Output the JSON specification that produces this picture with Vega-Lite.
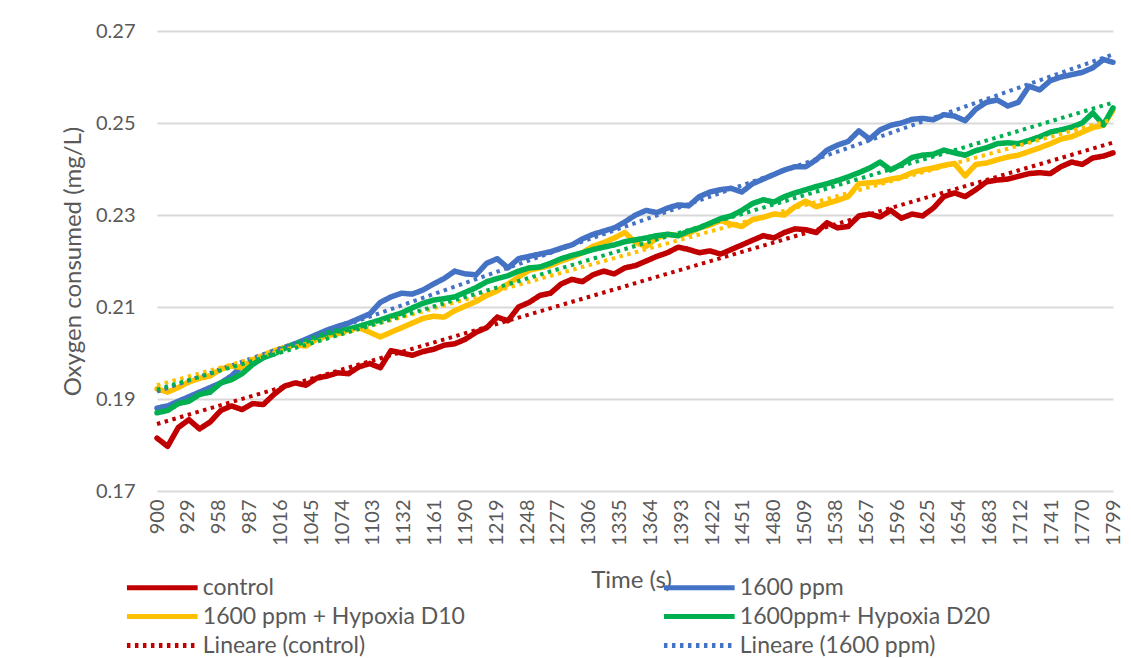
{
 "$schema": "https://vega.github.io/schema/vega-lite/v6.json",
 "width": 956,
 "height": 460,
 "autosize": "none",
 "padding": {"left": 157, "top": 31, "right": 18, "bottom": 167},
 "background": "white",
 "config": {"view": {"stroke": null}, "font": "Lato"},
 "data": {"values": [
{"t":900,"control":0.1815,"1600 ppm":0.1880,"1600 ppm + Hypoxia D10":0.1922,"1600ppm+ Hypoxia D20":0.1870},
{"t":910,"control":0.1797,"1600 ppm":0.1885,"1600 ppm + Hypoxia D10":0.1915,"1600ppm+ Hypoxia D20":0.1875},
{"t":920,"control":0.1838,"1600 ppm":0.1895,"1600 ppm + Hypoxia D10":0.1925,"1600ppm+ Hypoxia D20":0.1890},
{"t":930,"control":0.1855,"1600 ppm":0.1905,"1600 ppm + Hypoxia D10":0.1937,"1600ppm+ Hypoxia D20":0.1895},
{"t":940,"control":0.1835,"1600 ppm":0.1915,"1600 ppm + Hypoxia D10":0.1945,"1600ppm+ Hypoxia D20":0.1910},
{"t":950,"control":0.1850,"1600 ppm":0.1925,"1600 ppm + Hypoxia D10":0.1950,"1600ppm+ Hypoxia D20":0.1915},
{"t":960,"control":0.1875,"1600 ppm":0.1935,"1600 ppm + Hypoxia D10":0.1965,"1600ppm+ Hypoxia D20":0.1935},
{"t":970,"control":0.1885,"1600 ppm":0.1950,"1600 ppm + Hypoxia D10":0.1972,"1600ppm+ Hypoxia D20":0.1942},
{"t":980,"control":0.1877,"1600 ppm":0.1972,"1600 ppm + Hypoxia D10":0.1968,"1600ppm+ Hypoxia D20":0.1955},
{"t":990,"control":0.1890,"1600 ppm":0.1980,"1600 ppm + Hypoxia D10":0.1985,"1600ppm+ Hypoxia D20":0.1975},
{"t":1000,"control":0.1888,"1600 ppm":0.1990,"1600 ppm + Hypoxia D10":0.1995,"1600ppm+ Hypoxia D20":0.1990},
{"t":1010,"control":0.1910,"1600 ppm":0.2002,"1600 ppm + Hypoxia D10":0.2005,"1600ppm+ Hypoxia D20":0.1998},
{"t":1020,"control":0.1928,"1600 ppm":0.2012,"1600 ppm + Hypoxia D10":0.2012,"1600ppm+ Hypoxia D20":0.2010},
{"t":1030,"control":0.1935,"1600 ppm":0.2020,"1600 ppm + Hypoxia D10":0.2018,"1600ppm+ Hypoxia D20":0.2020},
{"t":1040,"control":0.1930,"1600 ppm":0.2030,"1600 ppm + Hypoxia D10":0.2015,"1600ppm+ Hypoxia D20":0.2025},
{"t":1050,"control":0.1945,"1600 ppm":0.2040,"1600 ppm + Hypoxia D10":0.2030,"1600ppm+ Hypoxia D20":0.2035},
{"t":1060,"control":0.1950,"1600 ppm":0.2050,"1600 ppm + Hypoxia D10":0.2038,"1600ppm+ Hypoxia D20":0.2043},
{"t":1070,"control":0.1957,"1600 ppm":0.2058,"1600 ppm + Hypoxia D10":0.2042,"1600ppm+ Hypoxia D20":0.2048},
{"t":1080,"control":0.1955,"1600 ppm":0.2065,"1600 ppm + Hypoxia D10":0.2050,"1600ppm+ Hypoxia D20":0.2052},
{"t":1090,"control":0.1970,"1600 ppm":0.2075,"1600 ppm + Hypoxia D10":0.2055,"1600ppm+ Hypoxia D20":0.2058},
{"t":1100,"control":0.1977,"1600 ppm":0.2085,"1600 ppm + Hypoxia D10":0.2045,"1600ppm+ Hypoxia D20":0.2065},
{"t":1110,"control":0.1968,"1600 ppm":0.2110,"1600 ppm + Hypoxia D10":0.2035,"1600ppm+ Hypoxia D20":0.2072},
{"t":1120,"control":0.2005,"1600 ppm":0.2122,"1600 ppm + Hypoxia D10":0.2045,"1600ppm+ Hypoxia D20":0.2080},
{"t":1130,"control":0.2000,"1600 ppm":0.2130,"1600 ppm + Hypoxia D10":0.2055,"1600ppm+ Hypoxia D20":0.2087},
{"t":1140,"control":0.1995,"1600 ppm":0.2128,"1600 ppm + Hypoxia D10":0.2065,"1600ppm+ Hypoxia D20":0.2098},
{"t":1150,"control":0.2003,"1600 ppm":0.2137,"1600 ppm + Hypoxia D10":0.2075,"1600ppm+ Hypoxia D20":0.2108},
{"t":1160,"control":0.2008,"1600 ppm":0.2150,"1600 ppm + Hypoxia D10":0.2080,"1600ppm+ Hypoxia D20":0.2115},
{"t":1170,"control":0.2017,"1600 ppm":0.2162,"1600 ppm + Hypoxia D10":0.2078,"1600ppm+ Hypoxia D20":0.2118},
{"t":1180,"control":0.2020,"1600 ppm":0.2178,"1600 ppm + Hypoxia D10":0.2092,"1600ppm+ Hypoxia D20":0.2122},
{"t":1190,"control":0.2030,"1600 ppm":0.2172,"1600 ppm + Hypoxia D10":0.2102,"1600ppm+ Hypoxia D20":0.2132},
{"t":1200,"control":0.2045,"1600 ppm":0.2170,"1600 ppm + Hypoxia D10":0.2112,"1600ppm+ Hypoxia D20":0.2142},
{"t":1210,"control":0.2055,"1600 ppm":0.2195,"1600 ppm + Hypoxia D10":0.2125,"1600ppm+ Hypoxia D20":0.2155},
{"t":1220,"control":0.2078,"1600 ppm":0.2205,"1600 ppm + Hypoxia D10":0.2135,"1600ppm+ Hypoxia D20":0.2162},
{"t":1230,"control":0.2070,"1600 ppm":0.2185,"1600 ppm + Hypoxia D10":0.2150,"1600ppm+ Hypoxia D20":0.2168},
{"t":1240,"control":0.2100,"1600 ppm":0.2205,"1600 ppm + Hypoxia D10":0.2165,"1600ppm+ Hypoxia D20":0.2178},
{"t":1250,"control":0.2110,"1600 ppm":0.2210,"1600 ppm + Hypoxia D10":0.2180,"1600ppm+ Hypoxia D20":0.2185},
{"t":1260,"control":0.2125,"1600 ppm":0.2215,"1600 ppm + Hypoxia D10":0.2185,"1600ppm+ Hypoxia D20":0.2187},
{"t":1270,"control":0.2130,"1600 ppm":0.2220,"1600 ppm + Hypoxia D10":0.2190,"1600ppm+ Hypoxia D20":0.2195},
{"t":1280,"control":0.2150,"1600 ppm":0.2228,"1600 ppm + Hypoxia D10":0.2200,"1600ppm+ Hypoxia D20":0.2205},
{"t":1290,"control":0.2160,"1600 ppm":0.2235,"1600 ppm + Hypoxia D10":0.2208,"1600ppm+ Hypoxia D20":0.2212},
{"t":1300,"control":0.2155,"1600 ppm":0.2248,"1600 ppm + Hypoxia D10":0.2218,"1600ppm+ Hypoxia D20":0.2218},
{"t":1310,"control":0.2170,"1600 ppm":0.2258,"1600 ppm + Hypoxia D10":0.2232,"1600ppm+ Hypoxia D20":0.2225},
{"t":1320,"control":0.2178,"1600 ppm":0.2265,"1600 ppm + Hypoxia D10":0.2240,"1600ppm+ Hypoxia D20":0.2230},
{"t":1330,"control":0.2172,"1600 ppm":0.2272,"1600 ppm + Hypoxia D10":0.2250,"1600ppm+ Hypoxia D20":0.2235},
{"t":1340,"control":0.2185,"1600 ppm":0.2285,"1600 ppm + Hypoxia D10":0.2262,"1600ppm+ Hypoxia D20":0.2242},
{"t":1350,"control":0.2190,"1600 ppm":0.2300,"1600 ppm + Hypoxia D10":0.2240,"1600ppm+ Hypoxia D20":0.2246},
{"t":1360,"control":0.2200,"1600 ppm":0.2310,"1600 ppm + Hypoxia D10":0.2232,"1600ppm+ Hypoxia D20":0.2250},
{"t":1370,"control":0.2210,"1600 ppm":0.2305,"1600 ppm + Hypoxia D10":0.2250,"1600ppm+ Hypoxia D20":0.2255},
{"t":1380,"control":0.2218,"1600 ppm":0.2315,"1600 ppm + Hypoxia D10":0.2258,"1600ppm+ Hypoxia D20":0.2258},
{"t":1390,"control":0.2230,"1600 ppm":0.2322,"1600 ppm + Hypoxia D10":0.2255,"1600ppm+ Hypoxia D20":0.2255},
{"t":1400,"control":0.2225,"1600 ppm":0.2320,"1600 ppm + Hypoxia D10":0.2260,"1600ppm+ Hypoxia D20":0.2265},
{"t":1410,"control":0.2218,"1600 ppm":0.2340,"1600 ppm + Hypoxia D10":0.2272,"1600ppm+ Hypoxia D20":0.2272},
{"t":1420,"control":0.2222,"1600 ppm":0.2350,"1600 ppm + Hypoxia D10":0.2278,"1600ppm+ Hypoxia D20":0.2282},
{"t":1430,"control":0.2215,"1600 ppm":0.2355,"1600 ppm + Hypoxia D10":0.2288,"1600ppm+ Hypoxia D20":0.2292},
{"t":1440,"control":0.2225,"1600 ppm":0.2358,"1600 ppm + Hypoxia D10":0.2280,"1600ppm+ Hypoxia D20":0.2298},
{"t":1450,"control":0.2235,"1600 ppm":0.2350,"1600 ppm + Hypoxia D10":0.2275,"1600ppm+ Hypoxia D20":0.2310},
{"t":1460,"control":0.2245,"1600 ppm":0.2368,"1600 ppm + Hypoxia D10":0.2290,"1600ppm+ Hypoxia D20":0.2325},
{"t":1470,"control":0.2255,"1600 ppm":0.2378,"1600 ppm + Hypoxia D10":0.2295,"1600ppm+ Hypoxia D20":0.2333},
{"t":1480,"control":0.2250,"1600 ppm":0.2388,"1600 ppm + Hypoxia D10":0.2302,"1600ppm+ Hypoxia D20":0.2328},
{"t":1490,"control":0.2262,"1600 ppm":0.2398,"1600 ppm + Hypoxia D10":0.2300,"1600ppm+ Hypoxia D20":0.2340},
{"t":1500,"control":0.2270,"1600 ppm":0.2405,"1600 ppm + Hypoxia D10":0.2318,"1600ppm+ Hypoxia D20":0.2348},
{"t":1510,"control":0.2268,"1600 ppm":0.2405,"1600 ppm + Hypoxia D10":0.2330,"1600ppm+ Hypoxia D20":0.2355},
{"t":1520,"control":0.2262,"1600 ppm":0.2420,"1600 ppm + Hypoxia D10":0.2318,"1600ppm+ Hypoxia D20":0.2362},
{"t":1530,"control":0.2283,"1600 ppm":0.2441,"1600 ppm + Hypoxia D10":0.2325,"1600ppm+ Hypoxia D20":0.2368},
{"t":1540,"control":0.2272,"1600 ppm":0.2452,"1600 ppm + Hypoxia D10":0.2332,"1600ppm+ Hypoxia D20":0.2375},
{"t":1550,"control":0.2275,"1600 ppm":0.2460,"1600 ppm + Hypoxia D10":0.2340,"1600ppm+ Hypoxia D20":0.2383},
{"t":1560,"control":0.2298,"1600 ppm":0.2483,"1600 ppm + Hypoxia D10":0.2368,"1600ppm+ Hypoxia D20":0.2392},
{"t":1570,"control":0.2302,"1600 ppm":0.2465,"1600 ppm + Hypoxia D10":0.2370,"1600ppm+ Hypoxia D20":0.2402},
{"t":1580,"control":0.2296,"1600 ppm":0.2485,"1600 ppm + Hypoxia D10":0.2372,"1600ppm+ Hypoxia D20":0.2415},
{"t":1590,"control":0.2310,"1600 ppm":0.2495,"1600 ppm + Hypoxia D10":0.2378,"1600ppm+ Hypoxia D20":0.2398},
{"t":1600,"control":0.2293,"1600 ppm":0.2500,"1600 ppm + Hypoxia D10":0.2382,"1600ppm+ Hypoxia D20":0.2410},
{"t":1610,"control":0.2302,"1600 ppm":0.2508,"1600 ppm + Hypoxia D10":0.2392,"1600ppm+ Hypoxia D20":0.2425},
{"t":1620,"control":0.2298,"1600 ppm":0.2510,"1600 ppm + Hypoxia D10":0.2398,"1600ppm+ Hypoxia D20":0.2430},
{"t":1630,"control":0.2315,"1600 ppm":0.2507,"1600 ppm + Hypoxia D10":0.2402,"1600ppm+ Hypoxia D20":0.2432},
{"t":1640,"control":0.2340,"1600 ppm":0.2518,"1600 ppm + Hypoxia D10":0.2408,"1600ppm+ Hypoxia D20":0.2441},
{"t":1650,"control":0.2348,"1600 ppm":0.2515,"1600 ppm + Hypoxia D10":0.2412,"1600ppm+ Hypoxia D20":0.2435},
{"t":1660,"control":0.2340,"1600 ppm":0.2505,"1600 ppm + Hypoxia D10":0.2385,"1600ppm+ Hypoxia D20":0.2430},
{"t":1670,"control":0.2355,"1600 ppm":0.2530,"1600 ppm + Hypoxia D10":0.2410,"1600ppm+ Hypoxia D20":0.2440},
{"t":1680,"control":0.2372,"1600 ppm":0.2545,"1600 ppm + Hypoxia D10":0.2413,"1600ppm+ Hypoxia D20":0.2446},
{"t":1690,"control":0.2376,"1600 ppm":0.2550,"1600 ppm + Hypoxia D10":0.2420,"1600ppm+ Hypoxia D20":0.2455},
{"t":1700,"control":0.2378,"1600 ppm":0.2537,"1600 ppm + Hypoxia D10":0.2426,"1600ppm+ Hypoxia D20":0.2457},
{"t":1710,"control":0.2384,"1600 ppm":0.2545,"1600 ppm + Hypoxia D10":0.2430,"1600ppm+ Hypoxia D20":0.2455},
{"t":1720,"control":0.2390,"1600 ppm":0.2580,"1600 ppm + Hypoxia D10":0.2438,"1600ppm+ Hypoxia D20":0.2462},
{"t":1730,"control":0.2392,"1600 ppm":0.2572,"1600 ppm + Hypoxia D10":0.2446,"1600ppm+ Hypoxia D20":0.2470},
{"t":1740,"control":0.2390,"1600 ppm":0.2592,"1600 ppm + Hypoxia D10":0.2455,"1600ppm+ Hypoxia D20":0.2480},
{"t":1750,"control":0.2405,"1600 ppm":0.2600,"1600 ppm + Hypoxia D10":0.2465,"1600ppm+ Hypoxia D20":0.2485},
{"t":1760,"control":0.2415,"1600 ppm":0.2605,"1600 ppm + Hypoxia D10":0.2470,"1600ppm+ Hypoxia D20":0.2491},
{"t":1770,"control":0.2410,"1600 ppm":0.2610,"1600 ppm + Hypoxia D10":0.2480,"1600ppm+ Hypoxia D20":0.2500},
{"t":1780,"control":0.2424,"1600 ppm":0.2620,"1600 ppm + Hypoxia D10":0.2490,"1600ppm+ Hypoxia D20":0.2522},
{"t":1790,"control":0.2428,"1600 ppm":0.2638,"1600 ppm + Hypoxia D10":0.2495,"1600ppm+ Hypoxia D20":0.2496},
{"t":1799,"control":0.2435,"1600 ppm":0.2632,"1600 ppm + Hypoxia D10":0.2528,"1600ppm+ Hypoxia D20":0.2533}
 ]},
 "transform": [
  {"fold": ["control", "1600 ppm", "1600 ppm + Hypoxia D10", "1600ppm+ Hypoxia D20"], "as": ["series", "value"]}
 ],
 "encoding": {
  "x": {"field": "t", "type": "quantitative",
   "scale": {"domain": [900, 1799], "nice": false, "zero": false},
   "axis": {"values": [900,929,958,987,1016,1045,1074,1103,1132,1161,1190,1219,1248,1277,1306,1335,1364,1393,1422,1451,1480,1509,1538,1567,1596,1625,1654,1683,1712,1741,1770,1799],
    "format": "d", "labelAngle": -90, "labelFontSize": 20, "labelColor": "#595959", "labelPadding": 8,
    "labelFont": "Lato", "ticks": false, "domain": false, "grid": false, "labelOverlap": false,
    "title": "Time (s)", "titleFont": "Lato", "titleFontSize": 24, "titleFontWeight": "normal", "titleColor": "#595959",
    "titleX": 474, "titleY": 77, "titleBaseline": "top"}},
  "y": {"field": "value", "type": "quantitative",
   "scale": {"domain": [0.17, 0.27], "nice": false, "zero": false},
   "axis": {"values": [0.17, 0.19, 0.21, 0.23, 0.25, 0.27], "format": ".2f",
    "labelFontSize": 20, "labelColor": "#595959", "labelPadding": 22, "labelFont": "Lato",
    "ticks": false, "domain": false, "grid": true, "gridColor": "#d9d9d9", "gridWidth": 2,
    "title": "Oxygen consumed (mg/L)", "titleFont": "Lato", "titleFontSize": 24, "titleFontWeight": "normal",
    "titleColor": "#595959", "titlePadding": 10}},
  "color": {"field": "series", "type": "nominal",
   "scale": {"domain": ["control", "1600 ppm", "1600 ppm + Hypoxia D10", "1600ppm+ Hypoxia D20", "Lineare (control)", "Lineare (1600 ppm)", "Lineare (1600 ppm + Hypoxia D10)", "Lineare (1600ppm+ Hypoxia D20)"],
    "range": ["#C00000", "#4472C4", "#FFC000", "#00B050", "#C00000", "#4472C4", "#FFC000", "#00B050"]},
   "legend": {"values": ["control", "1600 ppm", "1600 ppm + Hypoxia D10", "1600ppm+ Hypoxia D20", "Lineare (control)", "Lineare (1600 ppm)"],
    "title": null, "orient": "none", "legendX": -6.2, "legendY": 545, "columns": 2, "direction": "horizontal",
    "symbolType": "M-5,0H5", "symbolSize": 200, "symbolStrokeWidth": 5, "labelFontSize": 23, "labelFont": "Lato",
    "labelColor": "#595959", "labelOffset": 29, "labelLimit": 500, "columnPadding": 188, "rowPadding": 5, "padding": 0}},
  "strokeDash": {"field": "series", "type": "nominal",
   "scale": {"domain": ["control", "1600 ppm", "1600 ppm + Hypoxia D10", "1600ppm+ Hypoxia D20", "Lineare (control)", "Lineare (1600 ppm)", "Lineare (1600 ppm + Hypoxia D10)", "Lineare (1600ppm+ Hypoxia D20)"],
    "range": [[1, 0], [1, 0], [1, 0], [1, 0], [3.5, 4.5], [3.5, 4.5], [3.5, 4.5], [3.5, 4.5]]},
   "legend": {"values": ["control", "1600 ppm", "1600 ppm + Hypoxia D10", "1600ppm+ Hypoxia D20", "Lineare (control)", "Lineare (1600 ppm)"],
    "title": null, "orient": "none", "legendX": -6.2, "legendY": 545, "columns": 2, "direction": "horizontal",
    "symbolType": "M-5,0H5", "symbolSize": 200, "symbolStrokeWidth": 5, "labelFontSize": 23, "labelFont": "Lato",
    "labelColor": "#595959", "labelOffset": 29, "labelLimit": 500, "columnPadding": 188, "rowPadding": 5, "padding": 0}}
 },
 "layer": [
  {"mark": {"type": "line", "strokeWidth": 5.5, "strokeJoin": "round", "strokeCap": "round"}},
  {"transform": [
    {"regression": "value", "on": "t", "groupby": ["series"]},
    {"calculate": "'Lineare (' + datum.series + ')'", "as": "series"}
   ],
   "mark": {"type": "line", "strokeWidth": 4}}
 ]
}
